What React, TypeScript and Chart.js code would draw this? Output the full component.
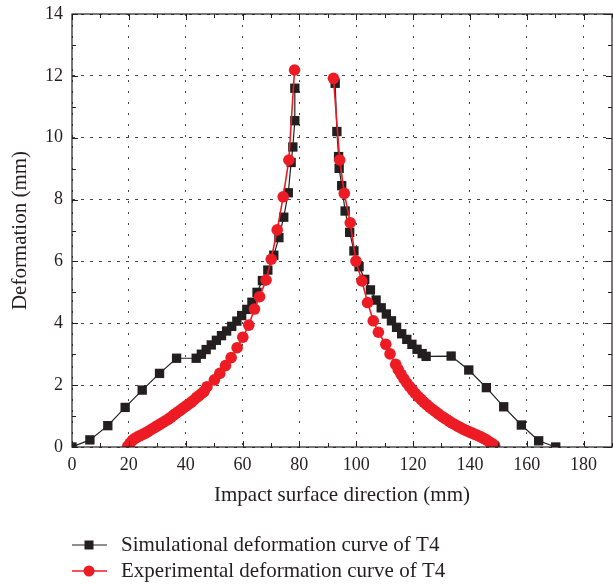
import React, { useEffect, useRef } from "react";
import { Chart, registerables } from "chart.js";

Chart.register(...registerables);

// Simulational deformation curve of T4 (black squares)
const simLeftX = [0, 6.3, 12.6, 18.7, 24.7, 30.8, 36.8, 43.7, 45.5, 47.2, 49.0, 50.8, 52.6, 54.4, 56.2, 58.0, 59.7, 61.5, 63.3, 65.1, 67.0, 68.9, 71.0, 72.8, 74.5, 76.1, 77.1, 77.7, 78.4, 78.4];
const simLeftY = [0, 0.23, 0.69, 1.28, 1.84, 2.38, 2.87, 2.87, 3.0, 3.15, 3.3, 3.45, 3.6, 3.75, 3.9, 4.07, 4.25, 4.45, 4.68, 5.0, 5.38, 5.72, 6.2, 6.77, 7.43, 8.22, 9.2, 9.7, 10.55, 11.6];
const simRightX = [92.6, 93.2, 93.8, 94.0, 94.9, 96.1, 97.7, 99.2, 101.0, 103.0, 105.0, 107.0, 108.8, 110.6, 112.4, 114.2, 116.0, 117.8, 119.6, 121.4, 123.2, 124.6, 133.4, 139.6, 145.8, 151.9, 158.1, 164.2, 170.2];
const simRightY = [11.76, 10.2, 9.39, 9.01, 8.45, 7.63, 6.94, 6.34, 5.83, 5.42, 5.08, 4.75, 4.5, 4.3, 4.08, 3.87, 3.66, 3.48, 3.32, 3.16, 3.02, 2.93, 2.94, 2.49, 1.92, 1.3, 0.71, 0.2, 0];

// Experimental deformation curve of T4 (red circles)
const expLeftX = [19.6, 20.4, 21.3, 22.2, 23.1, 24.0, 24.9, 25.8, 26.7, 27.6, 28.5, 29.4, 30.3, 31.2, 32.1, 33.0, 33.9, 34.8, 35.7, 36.6, 37.5, 38.4, 39.3, 40.2, 41.1, 42.0, 42.9, 43.8, 44.7, 45.6, 46.5, 47.5, 50.1, 52.0, 54.0, 56.0, 58.1, 60.1, 62.2, 64.2, 66.0, 68.3, 70.1, 72.2, 74.3, 76.3, 78.3];
const expLeftY = [0.02, 0.12, 0.22, 0.28, 0.33, 0.37, 0.41, 0.45, 0.5, 0.55, 0.6, 0.65, 0.7, 0.75, 0.8, 0.85, 0.9, 0.96, 1.03, 1.09, 1.15, 1.21, 1.27, 1.33, 1.39, 1.45, 1.52, 1.6, 1.66, 1.73, 1.8, 1.95, 2.17, 2.38, 2.63, 2.89, 3.21, 3.55, 3.94, 4.46, 4.86, 5.4, 6.07, 7.02, 8.09, 9.28, 12.19];
const expRightX = [92.0, 94.2, 95.8, 97.9, 99.9, 102.0, 104.0, 106.0, 107.8, 110.4, 111.9, 113.9, 114.8, 115.8, 116.8, 117.8, 118.8, 119.8, 120.8, 121.8, 122.8, 123.8, 124.8, 125.8, 126.8, 127.8, 128.8, 129.8, 130.8, 131.8, 132.8, 133.8, 134.8, 135.8, 136.8, 137.8, 138.8, 139.8, 140.8, 141.8, 142.8, 143.8, 144.8, 145.8, 146.8, 147.8, 148.7];
const expRightY = [11.92, 9.28, 8.2, 7.25, 6.01, 5.37, 4.67, 4.08, 3.71, 3.32, 3.01, 2.67, 2.5, 2.35, 2.2, 2.07, 1.95, 1.84, 1.73, 1.63, 1.54, 1.45, 1.37, 1.29, 1.22, 1.15, 1.08, 1.01, 0.95, 0.89, 0.83, 0.77, 0.72, 0.67, 0.62, 0.57, 0.53, 0.49, 0.45, 0.41, 0.37, 0.33, 0.28, 0.23, 0.17, 0.11, 0.05];

const seriesNames = ["Simulational deformation curve of T4", "Experimental deformation curve of T4"];
const xTitle = "Impact surface direction (mm)";
const yTitle = "Deformation (mm)";

const BLACK = "#231f20";
const RED = "#ed1c24";
const FONT = "'Liberation Serif', 'Times New Roman', serif";

function join(ax: number[], ay: number[], bx: number[], by: number[]) {
  const pts: { x: number; y: number | null }[] = ax.map((x, i) => ({ x, y: ay[i] }));
  pts.push({ x: (ax[ax.length - 1] + bx[0]) / 2, y: null });
  bx.forEach((x, i) => pts.push({ x, y: by[i] }));
  return pts;
}

const framePlugin = {
  id: "frame",
  afterDraw(chart: any) {
    const { ctx, chartArea: a, scales } = chart;
    const xs = scales.x;
    const ys = scales.y;
    ctx.save();
    ctx.strokeStyle = BLACK;
    ctx.lineWidth = 1.2;
    ctx.strokeRect(a.left, a.top, a.right - a.left, a.bottom - a.top);
    ctx.lineWidth = 1;
    ctx.beginPath();
    for (let v = 0; v <= 190; v += 10) {
      const p = Math.round(xs.getPixelForValue(v)) + 0.5;
      const len = v % 20 === 0 ? 6 : 4;
      ctx.moveTo(p, a.bottom);
      ctx.lineTo(p, a.bottom - len);
      ctx.moveTo(p, a.top);
      ctx.lineTo(p, a.top + len);
    }
    for (let v = 0; v <= 14; v += 1) {
      const p = Math.round(ys.getPixelForValue(v)) + 0.5;
      const len = v % 2 === 0 ? 6 : 4;
      ctx.moveTo(a.left, p);
      ctx.lineTo(a.left + len, p);
      ctx.moveTo(a.right, p);
      ctx.lineTo(a.right - len, p);
    }
    ctx.stroke();

    // axis titles
    ctx.fillStyle = BLACK;
    ctx.font = `21px ${FONT}`;
    ctx.textAlign = "center";
    ctx.textBaseline = "middle";
    ctx.fillText(xTitle, (a.left + a.right) / 2, 495);
    ctx.save();
    ctx.translate(20, (a.top + a.bottom) / 2);
    ctx.rotate(-Math.PI / 2);
    ctx.fillText(yTitle, 0, 0);
    ctx.restore();

    // legend
    const rows = [
      { y: 545, color: BLACK, style: "rect", name: seriesNames[0] },
      { y: 571, color: RED, style: "circle", name: seriesNames[1] },
    ];
    rows.forEach((r) => {
      ctx.strokeStyle = r.color;
      ctx.lineWidth = r.style === "rect" ? 1.2 : 1.6;
      ctx.beginPath();
      ctx.moveTo(72, r.y);
      ctx.lineTo(107, r.y);
      ctx.stroke();
      ctx.fillStyle = r.color;
      if (r.style === "rect") {
        ctx.fillRect(89 - 4.5, r.y - 4.5, 9, 9);
      } else {
        ctx.beginPath();
        ctx.arc(89, r.y, 5.5, 0, Math.PI * 2);
        ctx.fill();
      }
      ctx.fillStyle = BLACK;
      ctx.font = `21px ${FONT}`;
      ctx.textAlign = "left";
      ctx.textBaseline = "middle";
      ctx.fillText(r.name, 121, r.y);
    });
    ctx.restore();
  },
};

export default function App() {
  const ref = useRef<HTMLCanvasElement | null>(null);
  useEffect(() => {
    document.body.style.margin = "0";
    const canvas = ref.current!;
    const chart = new Chart(canvas, {
      type: "line",
      data: {
        datasets: [
          {
            label: seriesNames[0],
            data: join(simLeftX, simLeftY, simRightX, simRightY) as any,
            borderColor: BLACK,
            backgroundColor: BLACK,
            borderWidth: 1.2,
            pointStyle: "rect",
            pointRadius: 6.6,
            pointBorderWidth: 0,
            spanGaps: false,
            clip: 0,
            order: 2,
          },
          {
            label: seriesNames[1],
            data: join(expLeftX, expLeftY, expRightX, expRightY) as any,
            borderColor: RED,
            backgroundColor: RED,
            borderWidth: 1.6,
            pointStyle: "circle",
            pointRadius: 5.8,
            pointBorderWidth: 0,
            spanGaps: false,
            clip: 0,
            order: 1,
          },
        ],
      },
      options: {
        responsive: false,
        animation: false,
        layout: { autoPadding: false, padding: { top: 14, right: 1, left: 0, bottom: 0 } },
        plugins: { legend: { display: false }, tooltip: { enabled: false } },
        scales: {
          x: {
            type: "linear",
            min: 0,
            max: 190,
            afterFit: (s: any) => {
              s.height = 137;
              s.paddingLeft = 0;
              s.paddingRight = 0;
            },
            ticks: {
              stepSize: 20,
              includeBounds: false,
              color: BLACK,
              padding: 7,
              maxRotation: 0,
              font: { family: FONT, size: 18 },
            },
            grid: {
              drawTicks: false,
              color: "#444",
              lineWidth: 1,
            },
            border: { display: false, dash: [2, 9] },
          },
          y: {
            type: "linear",
            min: 0,
            max: 14,
            afterFit: (s: any) => {
              s.width = 72;
              s.paddingTop = 0;
              s.paddingBottom = 0;
            },
            ticks: {
              stepSize: 2,
              color: BLACK,
              padding: 9,
              font: { family: FONT, size: 18 },
            },
            grid: {
              drawTicks: false,
              color: "#444",
              lineWidth: 1,
            },
            border: { display: false, dash: [3, 6] },
          },
        },
      },
      plugins: [framePlugin],
    });
    return () => chart.destroy();
  }, []);
  return (
    <div style={{ position: "absolute", left: 0, top: 0, width: 613, height: 584 }}>
      <canvas ref={ref} width={613} height={584} />
    </div>
  );
}
